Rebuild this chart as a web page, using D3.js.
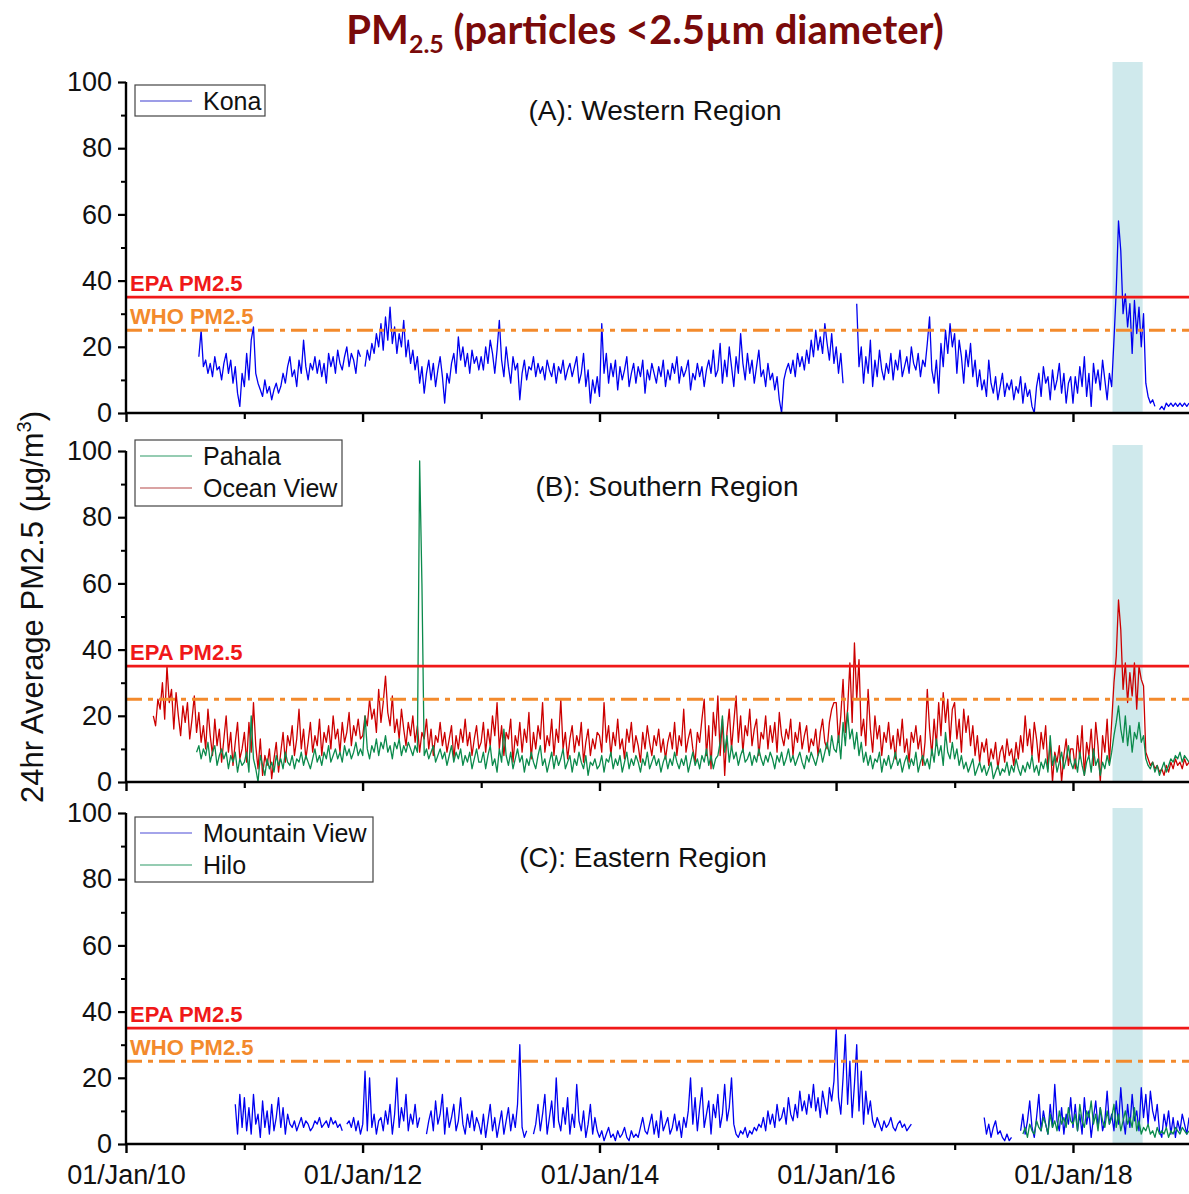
<!DOCTYPE html>
<html>
<head>
<meta charset="utf-8">
<script src="https://cdn.jsdelivr.net/npm/d3@7"></script>
<style>
  body { margin: 0; background: #fff; }
  svg { display: block; font-family: "Liberation Sans", Arial, sans-serif; }
</style>
</head>
<body>
<div id="chart"></div>
<script>
// weekly grid: index 0 = first week of 2010, 52 steps per year
const weekDays = 365.25 / 52;

// 24hr average PM2.5, weekly samples (null = gap)
const konaStart = 32;
const kona = [
  17,25,14,16,12,15,11,17,13,14,10,15,18,12,16,9,14,6,2,12,
  8,18,10,22,26,12,9,7,5,10,6,8,4,7,9,6,8,12,9,14,17,11,13,8,16,12,22,14,10,15,13,17,12,16,11,15,9,18,14,17,12,19,15,13,17,20,14,18,16,12,19,17,
  null,14,19,16,21,18,24,20,27,19,29,22,32,21,26,18,24,20,28,17,22,15,19,13,17,9,14,6,12,16,10,15,8,13,17,11,3,12,9,15,18,12,23,16,20,14,18,12,19,15,17,13,
  17,13,20,15,22,18,12,19,28,16,11,20,14,9,17,13,15,4,12,16,10,14,13,17,11,15,12,14,10,16,13,11,15,9,14,12,16,10,13,15,11,14,17,9,12,18,8,13,3,10,6,11,
  5,27,12,18,9,15,11,16,7,14,10,13,17,8,12,15,9,14,11,16,6,13,10,15,12,9,14,11,16,8,13,10,15,12,17,9,14,11,13,16,7,12,10,15,11,14,8,13,16,12,19,11,
  13,21,9,16,11,20,14,8,17,12,24,15,10,18,12,16,9,14,19,11,13,8,15,10,12,7,11,4,0,10,13,15,12,16,11,18,14,17,13,19,15,22,17,25,19,23,18,27,21,16,24,15,
  20,12,18,9,null,null,null,null,null,33,14,20,9,17,12,22,8,16,11,19,13,10,15,12,18,10,16,13,19,11,14,17,12,20,15,13,18,11,16,14,21,29,13,9,16,6,21,14,25,18,27,20,
  24,12,22,17,9,19,14,21,11,16,8,13,7,10,5,16,9,6,11,4,8,12,5,9,7,10,4,8,6,11,3,9,5,7,2,0,8,12,5,14,9,11,4,13,7,10,15,6,12,3,9,11,
  3,11,6,14,8,17,5,12,2,15,9,13,7,16,10,4,12,8,22,37,58,49,30,36,26,33,18,34,24,32,20,30,9,5,3,4,2,null,1,2,1,3,2,3,2,3,2,3,2,3,2,3
];

const oceanViewStart = 12;
const oceanView = [
  20,17,25,22,30,19,35,24,28,16,27,20,14,23,18,24,13,19,26,15,21,12,17,10,22,14,8,19,11,16,6,13,20,9,15,5,12,18,7,10,
  15,6,18,9,24,11,4,13,2,8,5,10,1,7,12,3,9,15,6,14,11,17,8,13,22,10,16,7,12,18,9,14,11,19,8,15,12,17,10,20,13,16,9,18,12,15,21,11,17,14,19,13,
  14,20,17,25,19,22,15,28,18,24,32,21,17,26,15,19,13,22,16,11,18,14,20,12,17,9,15,13,19,10,16,8,14,12,18,11,15,9,13,17,7,14,10,16,12,19,11,15,8,13,17,10,
  12,18,9,16,11,20,14,24,10,17,8,15,13,19,6,14,11,18,9,16,12,21,7,15,10,17,13,24,9,14,11,19,8,16,12,25,10,15,7,13,17,9,14,11,18,6,12,16,8,13,10,15,
  14,9,24,12,17,8,15,11,19,10,13,7,16,12,18,9,14,11,6,15,10,17,12,8,14,11,16,9,13,7,12,15,10,18,8,14,11,22,9,13,16,10,6,15,12,19,25,8,17,4,21,14,
  26,8,19,2,15,22,10,18,26,12,20,9,17,14,22,11,16,19,8,15,13,20,10,17,12,18,9,21,14,11,16,13,19,8,15,12,18,10,14,17,9,13,11,16,8,15,19,12,10,18,22,24,
  24,12,20,31,15,22,36,18,42,25,37,14,19,11,28,16,9,20,13,17,8,15,12,18,10,14,7,16,11,19,9,13,6,15,12,17,10,14,5,12,28,16,8,19,11,24,14,27,18,25,12,22,
  24,13,19,9,22,15,20,11,17,8,14,6,12,9,13,5,10,7,12,4,9,11,6,13,8,10,5,12,7,14,9,20,11,16,8,18,13,6,15,10,17,4,12,0,9,6,11,0,8,13,5,10,
  10,4,14,7,17,2,12,8,16,5,18,11,0,14,9,19,6,18,30,38,55,46,28,36,24,33,26,36,22,35,31,29,9,7,5,6,4,5,3,4,2,5,3,6,4,7,5,6,4,7,5,6
];

const pahalaStart = 31;
const pahala = [
  9,11,7,10,8,12,6,9,11,5,8,10,7,9,4,8,6,9,3,7,5,
  6,9,3,20,7,4,0,8,5,2,7,4,6,3,8,5,7,4,9,6,5,8,4,7,6,9,5,8,6,4,7,10,6,8,5,9,7,11,6,8,10,7,9,6,11,8,10,7,9,12,8,10,
  8,20,10,7,11,9,13,8,12,10,14,9,11,7,12,10,13,8,11,9,12,10,8,11,9,97,60,8,10,7,9,11,6,8,10,7,9,5,8,11,6,9,7,10,5,8,6,9,4,7,10,6,
  6,9,4,8,11,5,7,3,10,6,16,8,5,9,4,7,10,6,8,3,7,5,9,6,4,8,11,5,7,3,6,9,4,8,5,7,10,4,6,8,3,7,5,9,6,4,8,2,6,5,7,4,
  5,8,3,7,6,9,4,7,5,8,3,6,9,4,7,5,8,6,3,7,5,9,4,6,8,5,7,3,6,8,4,7,5,9,6,4,7,5,8,3,6,9,5,7,4,8,6,10,5,8,4,7,
  8,12,20,9,14,6,11,7,9,5,8,10,6,7,9,5,8,6,10,7,5,8,6,9,7,4,8,6,9,5,7,10,6,8,5,7,9,6,4,8,6,9,7,5,8,10,6,9,12,8,14,10,
  9,14,7,18,11,21,13,16,10,15,8,12,6,9,5,8,4,7,6,9,3,7,5,8,4,6,9,5,7,3,6,8,4,7,5,9,3,6,8,5,7,4,10,6,13,8,11,5,15,9,7,12,
  7,10,5,8,4,6,3,5,7,2,4,6,3,5,2,4,6,1,3,5,2,4,3,6,2,5,3,7,4,2,5,3,6,4,8,3,5,2,6,4,7,3,14,5,8,3,6,9,4,7,11,6,
  4,7,3,9,5,2,6,8,3,10,5,7,2,6,4,8,5,9,14,18,23,16,12,20,11,17,9,15,13,18,12,14,7,5,4,6,3,5,2,4,6,3,5,7,6,8,7,9,6,8,7,6
];

const mountainViewStart = 48;
const mountainView = [
  12,3,15,5,
  14,4,11,3,15,6,9,2,13,5,10,3,12,4,8,14,5,11,3,9,6,5,7,4,6,8,5,7,6,4,5,7,6,8,5,6,7,5,8,6,7,5,6,4,null,6,7,5,8,4,7,3,
  6,22,4,20,5,9,3,7,8,4,10,6,12,3,9,20,5,11,7,15,4,9,6,12,5,8,null,null,3,7,10,4,13,6,9,15,3,11,5,8,12,4,7,14,6,3,9,5,10,4,8,6,
  3,9,2,7,12,4,8,2,6,10,3,7,11,4,9,5,12,30,5,2,4,null,null,3,6,12,4,9,15,3,8,13,5,20,7,4,11,6,14,3,9,5,18,7,4,10,2,6,12,3,8,4,
  2,4,1,3,5,2,3,1,4,2,3,5,2,1,4,2,3,2,5,8,4,3,6,9,3,7,2,10,4,6,8,3,5,9,4,7,2,8,5,10,20,6,14,4,11,17,5,9,13,3,12,8,
  15,5,9,18,7,11,20,6,3,2,4,3,5,2,4,3,5,4,6,5,8,4,10,6,9,5,12,7,8,11,6,14,9,7,12,8,16,10,13,9,15,11,18,10,14,8,16,12,9,17,13,19,
  35,14,9,20,33,12,25,8,18,30,10,22,6,16,9,13,7,5,8,6,4,7,5,6,8,5,4,6,7,5,6,4,5,6,
  null,null,null,null,null,null,null,null,null,null,null,null,null,null,null,null,null,null,
  null,null,null,null,null,null,null,null,null,null,null,null,null,8,3,6,2,5,7,3,4,2,1,3,1,2,null,null,null,4,9,3,7,13,5,2,8,15,4,10,6,3,12,5,18,7,4,11,3,9,6,14,
  5,12,4,9,3,14,6,10,2,8,13,5,11,4,7,16,6,9,4,13,6,17,8,3,12,5,15,7,10,4,17,8,15,6,16,10,7,12,4,2,9,5,10,3,8,2,7,4,9,6,3,8
];

const hiloStart = 394;
const hilo = [
  3,5,2,6,4,3,7,5,4,8,6,3,9,5,7,4,10,6,8,5,11,7,
  6,9,4,12,7,5,10,8,13,6,9,4,11,7,5,10,6,8,12,5,9,4,7,10,6,8,5,11,4,7,3,5,4,6,3,4,2,5,3,4,3,5,2,4,3,5,4,3,5,4,3,4
];

const epaLimit = 35;
const whoLimit = 25;
const eruption = ["2018-05-03", "2018-08-04"];
const yTicks = [0, 20, 40, 60, 80, 100];
const yMinor = [10, 30, 50, 70, 90];
const xTickYears = [2010, 2012, 2014, 2016, 2018];
const xMinorYears = [2011, 2013, 2015, 2017];

const width = 1189, height = 1194;
const colBlue = "#0000f0", colRed = "#cc0000", colGreen = "#0b8a4c";

const panels = [
  { label: "(A): Western Region", labelX: 655, labelY: 120, y0: 413, y1: 82, shadeTop: 62, whoLabel: true,
    series: [{ name: "Kona", start: konaStart, values: kona, color: colBlue, legend: "#3c3cd0" }],
    legend: { x: 135, y: 85, w: 130, h: 31 } },
  { label: "(B): Southern Region", labelX: 667, labelY: 496, y0: 782, y1: 451, shadeTop: 445, whoLabel: false,
    series: [
      { name: "Ocean View", start: oceanViewStart, values: oceanView, color: colRed, legend: "#b54848" },
      { name: "Pahala", start: pahalaStart, values: pahala, color: colGreen, legend: "#2c9a66" }
    ],
    legendOrder: ["Pahala", "Ocean View"],
    legend: { x: 135, y: 440, w: 207, h: 66 } },
  { label: "(C): Eastern Region", labelX: 643, labelY: 867, y0: 1144, y1: 813, shadeTop: 808, whoLabel: true,
    series: [
      { name: "Mountain View", start: mountainViewStart, values: mountainView, color: colBlue, legend: "#4a4ad6" },
      { name: "Hilo", start: hiloStart, values: hilo, color: colGreen, legend: "#2c9a66" }
    ],
    legendOrder: ["Mountain View", "Hilo"],
    legend: { x: 135, y: 817, w: 238, h: 65 } }
];

const t0 = Date.UTC(2010, 0, 1);
const weekDate = i => new Date(t0 + i * weekDays * 864e5);

const x = d3.scaleUtc()
  .domain([new Date(Date.UTC(2010, 0, 1)), new Date(Date.UTC(2018, 11, 25))])
  .range([126, 1189]);

const svg = d3.select("#chart")
  .append("svg")
  .attr("width", width)
  .attr("height", height);

// title with subscript
const title = svg.append("text")
  .attr("x", 645)
  .attr("y", 44)
  .attr("text-anchor", "middle")
  .style("font-family", "Lato, 'Open Sans', sans-serif")
  .style("font-weight", "bold")
  .style("font-size", "40px")
  .attr("fill", "#7a0a0a");
title.append("tspan").text("PM");
title.append("tspan").text("2.5").attr("dy", 9).style("font-size", "25px");
title.append("tspan").text(" (particles <2.5µm diameter)").attr("dy", -9);

// y axis title
const ytitle = svg.append("text")
  .attr("transform", "translate(43,607) rotate(-90)")
  .attr("text-anchor", "middle")
  .style("font-size", "31px")
  .attr("fill", "#111");
ytitle.append("tspan").text("24hr Average PM2.5 (µg/m");
ytitle.append("tspan").text("3").attr("dy", -12).style("font-size", "20px");
ytitle.append("tspan").text(")").attr("dy", 12);

panels.forEach((p, pi) => {
  const y = d3.scaleLinear().domain([0, 100]).range([p.y0, p.y1]);
  const g = svg.append("g");

  // eruption period shading
  g.append("rect")
    .attr("x", x(new Date(eruption[0])))
    .attr("width", x(new Date(eruption[1])) - x(new Date(eruption[0])))
    .attr("y", p.shadeTop)
    .attr("height", p.y0 - p.shadeTop)
    .attr("fill", "#cfe9ec");

  const line = d3.line()
    .defined(d => d.v != null)
    .x(d => x(d.date))
    .y(d => y(d.v));

  p.series.forEach(s => {
    const pts = s.values.map((v, i) => ({ date: weekDate(s.start + i), v }));
    g.append("path")
      .datum(pts)
      .attr("d", line)
      .attr("fill", "none")
      .attr("stroke", s.color)
      .attr("stroke-width", 1.3)
      .attr("stroke-linejoin", "round");
  });

  // EPA and WHO limits
  g.append("line")
    .attr("x1", 126).attr("x2", width)
    .attr("y1", y(epaLimit)).attr("y2", y(epaLimit))
    .attr("stroke", "#f01818").attr("stroke-width", 2.6);
  g.append("text")
    .attr("x", 130).attr("y", y(epaLimit) - 6)
    .style("font-size", "22px").style("font-weight", "bold")
    .attr("fill", "#f01818")
    .text("EPA PM2.5");

  g.append("line")
    .attr("x1", 126).attr("x2", width)
    .attr("y1", y(whoLimit)).attr("y2", y(whoLimit))
    .attr("stroke", "#f38a2c").attr("stroke-width", 3)
    .attr("stroke-dasharray", "16,6,5,6");
  if (p.whoLabel) {
    g.append("text")
      .attr("x", 130).attr("y", y(whoLimit) - 6)
      .style("font-size", "22px").style("font-weight", "bold")
      .attr("fill", "#f38a2c")
      .text("WHO PM2.5");
  }

  // y axis
  const yAxis = g.append("g")
    .attr("transform", "translate(126,0)")
    .call(d3.axisLeft(y).tickValues(yTicks).tickSize(8).tickPadding(6).tickFormat(d3.format("d")));
  yAxis.select(".domain").attr("stroke-width", 2.4).attr("d", `M0,${p.y0}V${p.y1}`);
  yAxis.selectAll(".tick line").attr("stroke-width", 2.2);
  yAxis.selectAll(".tick text").style("font-size", "27px").attr("fill", "#111").style("font-family", "'Liberation Sans', Arial, sans-serif");
  g.append("g")
    .attr("transform", "translate(126,0)")
    .call(d3.axisLeft(y).tickValues(yMinor).tickSize(5).tickFormat(""))
    .call(a => a.select(".domain").remove())
    .selectAll(".tick line").attr("stroke-width", 2);

  // x axis
  const xAxis = g.append("g")
    .attr("transform", `translate(0,${p.y0})`)
    .call(d3.axisBottom(x)
      .tickValues(xTickYears.map(yr => new Date(Date.UTC(yr, 0, 1))))
      .tickSize(9).tickPadding(12)
      .tickFormat(pi === 2 ? d3.utcFormat("%d/%b/%y") : ""));
  xAxis.select(".domain").attr("stroke-width", 2.6).attr("d", `M126,0H${width}`);
  xAxis.selectAll(".tick line").attr("stroke-width", 2.4);
  xAxis.selectAll(".tick text").style("font-size", "27px").attr("fill", "#111").style("font-family", "'Liberation Sans', Arial, sans-serif");
  g.append("g")
    .attr("transform", `translate(0,${p.y0})`)
    .call(d3.axisBottom(x).tickValues(xMinorYears.map(yr => new Date(Date.UTC(yr, 0, 1)))).tickSize(6).tickFormat(""))
    .call(a => a.select(".domain").remove())
    .selectAll(".tick line").attr("stroke-width", 2.2);

  // panel label
  g.append("text")
    .attr("x", p.labelX).attr("y", p.labelY)
    .attr("text-anchor", "middle")
    .style("font-size", "28px")
    .attr("fill", "#111")
    .text(p.label);

  // legend
  const lg = g.append("g");
  lg.append("rect")
    .attr("x", p.legend.x).attr("y", p.legend.y)
    .attr("width", p.legend.w).attr("height", p.legend.h)
    .attr("fill", "#fff").attr("stroke", "#444").attr("stroke-width", 1.2);
  const order = p.legendOrder || p.series.map(s => s.name);
  order.forEach((name, k) => {
    const s = p.series.find(d => d.name === name);
    const ly = p.legend.y + 16 + k * 32;
    lg.append("line")
      .attr("x1", p.legend.x + 5).attr("x2", p.legend.x + 57)
      .attr("y1", ly).attr("y2", ly)
      .attr("stroke", s.legend).attr("stroke-width", 1.2);
    lg.append("text")
      .attr("x", p.legend.x + 68).attr("y", ly + 9)
      .style("font-size", "25px")
      .attr("fill", "#111")
      .text(name);
  });
});
</script>
</body>
</html>
